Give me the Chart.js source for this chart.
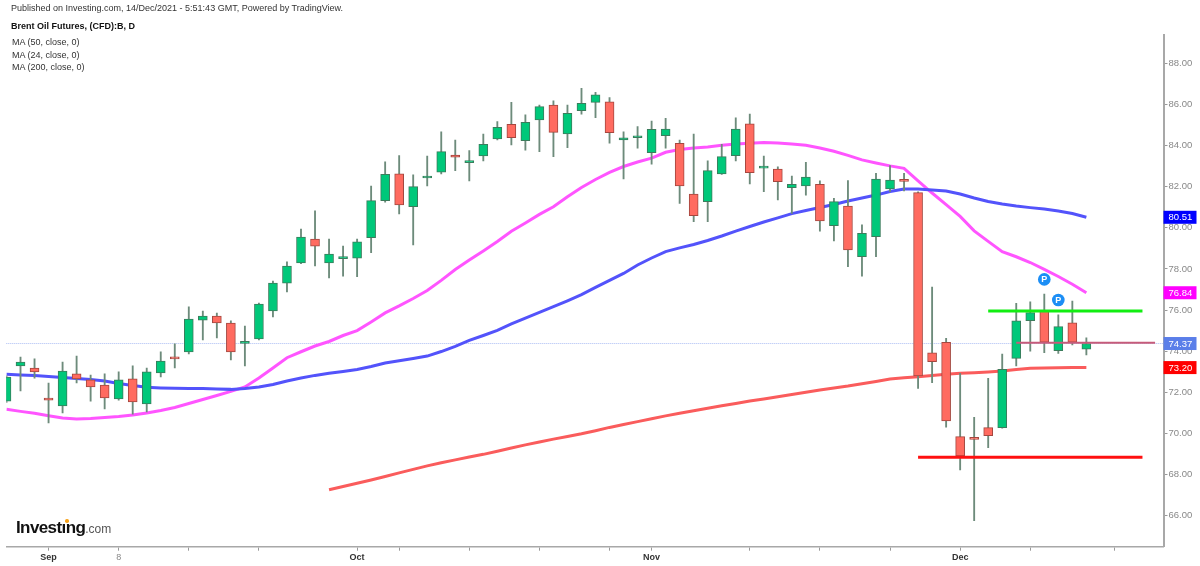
<!DOCTYPE html>
<html>
<head>
<meta charset="utf-8">
<title>Brent Oil Futures, (CFD):B, D</title>
<script src="https://cdn.jsdelivr.net/npm/chart.js@4.4.0/dist/chart.umd.min.js"></script>
<style>
  html, body { margin: 0; padding: 0; background: #fff; }
  #wrap { position: relative; width: 1200px; height: 566px; overflow: hidden; font-family: "Liberation Sans", Arial, sans-serif; }
  #chart { position: absolute; left: 0; top: 0; }
  .txt { position: absolute; left: 11px; white-space: nowrap; color: #333; font-size: 9px; line-height: 9px; }
  .bold { font-weight: bold; color: #111; }
  #logo { position: absolute; left: 16px; top: 518.6px; white-space: nowrap; line-height: 17px; }
  #logo .main { font-size: 17px; font-weight: bold; letter-spacing: -0.6px; color: #111; }
  #logo .dom { font-size: 12px; color: #555; }
  #dot { position: absolute; left: 65px; top: 519px; width: 3.6px; height: 3.6px; border-radius: 50%; background: #f7a21b; }
</style>
</head>
<body>
<div id="wrap">
  <canvas id="chart" width="1200" height="566"></canvas>
  <div class="txt" style="top:3.5px">Published on Investing.com, 14/Dec/2021 - 5:51:43 GMT, Powered by TradingView.</div>
  <div class="txt bold" style="top:21.5px">Brent Oil Futures, (CFD):B, D</div>
  <div class="txt" style="top:38px;left:12px">MA (50, close, 0)</div>
  <div class="txt" style="top:50.5px;left:12px">MA (24, close, 0)</div>
  <div class="txt" style="top:63px;left:12px">MA (200, close, 0)</div>
  <div id="logo"><span class="main">Investıng</span><span class="dom">.com</span></div>
  <div id="dot"></div>
</div>
<script>
// Harian 27 Aug - 14 Dec 2021
const opens = [71.57, 73.28, 73.18, 71.72, 71.33, 72.89, 72.60, 72.35, 71.67, 72.65,
  71.43, 72.94, 73.67, 73.96, 75.51, 75.71, 75.37, 74.38, 74.59, 75.95,
  77.31, 78.29, 79.45, 78.29, 78.50, 78.52, 79.52, 81.32, 82.62, 81.03,
  82.42, 82.70, 83.54, 83.17, 83.49, 84.32, 85.03, 84.24, 85.24, 85.97,
  84.56, 85.69, 86.10, 86.13, 84.27, 84.38, 83.65, 84.48, 84.11, 81.64,
  81.27, 82.62, 83.51, 85.05, 82.90, 82.86, 81.95, 82.03, 82.11, 80.10,
  81.06, 78.59, 79.57, 81.89, 82.30, 81.71, 73.92, 74.43, 69.84, 69.75,
  70.28, 70.28, 73.65, 75.48, 75.97, 74.02, 75.38, 74.10];
const highs = [72.80, 73.71, 73.62, 72.45, 73.47, 73.76, 72.84, 72.89, 72.99, 73.28,
  73.18, 73.96, 74.35, 76.15, 75.95, 75.85, 75.47, 75.22, 76.34, 77.41,
  78.34, 79.94, 80.82, 79.45, 79.11, 79.45, 82.03, 83.21, 83.51, 82.57,
  83.49, 84.67, 84.27, 83.75, 84.56, 85.16, 86.10, 85.49, 85.97, 86.18,
  85.97, 86.78, 86.59, 86.33, 84.67, 84.92, 85.19, 85.32, 84.27, 84.56,
  83.25, 84.06, 85.35, 85.53, 83.49, 82.97, 82.52, 83.18, 82.28, 81.43,
  82.29, 80.14, 82.65, 83.02, 82.65, 81.75, 77.11, 74.62, 72.92, 70.78,
  72.68, 73.86, 76.33, 76.40, 76.77, 75.76, 76.44, 74.65];
const lows = [71.50, 72.06, 72.69, 70.51, 70.99, 72.45, 71.57, 71.19, 71.62, 70.94,
  71.04, 72.74, 73.18, 73.86, 74.54, 74.64, 73.57, 73.28, 74.54, 75.66,
  76.88, 78.25, 78.14, 77.56, 77.65, 77.62, 78.79, 81.24, 80.67, 79.16,
  82.03, 82.62, 82.78, 82.28, 83.25, 84.27, 84.03, 83.78, 83.70, 83.46,
  83.89, 85.52, 85.35, 84.11, 82.37, 83.87, 83.09, 83.87, 81.19, 80.30,
  80.30, 82.60, 83.25, 82.13, 81.75, 81.35, 80.70, 81.59, 79.84, 79.36,
  78.11, 77.65, 78.59, 81.75, 81.79, 72.19, 72.46, 70.30, 68.22, 65.75,
  69.30, 70.25, 73.28, 74.00, 73.92, 73.89, 74.30, 73.81];
const closes = [72.74, 73.47, 72.99, 71.62, 73.03, 72.65, 72.26, 71.72, 72.60, 71.53,
  72.99, 73.52, 73.62, 75.56, 75.71, 75.37, 73.96, 74.42, 76.29, 77.31,
  78.14, 79.55, 79.11, 78.72, 78.55, 79.32, 81.32, 82.60, 81.11, 82.00,
  82.46, 83.70, 83.43, 83.25, 84.06, 84.89, 84.38, 85.13, 85.89, 84.64,
  85.57, 86.05, 86.46, 84.62, 84.38, 84.42, 84.79, 84.80, 82.03, 80.59,
  82.78, 83.46, 84.80, 82.68, 82.94, 82.24, 82.11, 82.46, 80.33, 81.27,
  78.92, 79.73, 82.37, 82.32, 82.26, 72.79, 73.49, 70.60, 68.90, 69.71,
  69.89, 73.12, 75.47, 75.87, 74.43, 75.19, 74.43, 74.37];

// Garis MA (bukan dihitung)
const ma50 = [72.87, 72.84, 72.81, 72.77, 72.72, 72.67, 72.62, 72.55, 72.43, 72.33,
  72.24, 72.21, 72.19, 72.18, 72.18, 72.16, 72.14, 72.18, 72.26, 72.38,
  72.55, 72.69, 72.82, 72.92, 73.01, 73.11, 73.25, 73.42, 73.53, 73.64,
  73.76, 73.98, 74.23, 74.52, 74.76, 75.01, 75.32, 75.61, 75.88, 76.16,
  76.45, 76.75, 77.10, 77.44, 77.78, 78.19, 78.53, 78.84, 79.02, 79.19,
  79.38, 79.60, 79.84, 80.06, 80.28, 80.48, 80.69, 80.84, 80.99, 81.13,
  81.30, 81.45, 81.59, 81.76, 81.89, 81.89, 81.84, 81.79, 81.64, 81.45,
  81.28, 81.16, 81.06, 80.98, 80.91, 80.82, 80.69, 80.51];
const ma24 = [71.17, 71.07, 70.98, 70.86, 70.75, 70.70, 70.72, 70.77, 70.82, 70.89,
  70.99, 71.11, 71.26, 71.45, 71.65, 71.84, 72.04, 72.26, 72.69, 73.18,
  73.68, 73.97, 74.25, 74.47, 74.76, 75.00, 75.42, 75.86, 76.20, 76.56,
  76.95, 77.44, 77.97, 78.43, 78.87, 79.33, 79.83, 80.23, 80.65, 81.02,
  81.51, 81.96, 82.35, 82.69, 82.98, 83.20, 83.39, 83.67, 83.81, 83.88,
  83.93, 84.01, 84.07, 84.11, 84.15, 84.12, 84.07, 84.01, 83.88, 83.72,
  83.52, 83.30, 83.15, 83.01, 82.89, 82.28, 81.69, 81.13, 80.55, 79.85,
  79.34, 78.84, 78.59, 78.31, 77.98, 77.63, 77.25, 76.84];
const ma200 = [null, null, null, null, null, null, null, null, null, null,
  null, null, null, null, null, null, null, null, null, null,
  null, null, null, 67.26, 67.42, 67.57, 67.73, 67.90, 68.08, 68.25,
  68.42, 68.57, 68.71, 68.85, 68.98, 69.13, 69.29, 69.44, 69.58, 69.72,
  69.85, 69.98, 70.13, 70.29, 70.43, 70.57, 70.71, 70.85, 70.98, 71.10,
  71.22, 71.34, 71.45, 71.57, 71.67, 71.78, 71.89, 72.00, 72.11, 72.21,
  72.30, 72.41, 72.52, 72.64, 72.70, 72.75, 72.82, 72.87, 72.92, 72.95,
  72.99, 73.03, 73.11, 73.17, 73.18, 73.19, 73.20, 73.20];

// Garis horizontal gambar tangan: [dari bar, sampai bar, harga]
const supportLine = [65, 81, 68.84];
const resistLine = [70, 81, 75.95];
const closeRay = [72, 81.9, 74.41];
// Tanda "P": [bar, harga]
const pivots = [[74, 77.49], [75, 76.49]];

// Label sumbu
const yTicks = [66, 68, 70, 72, 74, 76, 78, 80, 82, 84, 86, 88];
const xTickIdx = [3, 8, 13, 18, 25, 28, 33, 38, 43, 46, 53, 58, 63, 68, 73, 79];
const xTickNames = { 3: "Sep", 8: "8", 25: "Oct", 46: "Nov", 68: "Dec" };
// Label harga terakhir di kanan: MA50, MA24, close, MA200
const lastValues = [80.51, 76.84, 74.37, 73.20];

const FONT = '"Liberation Sans", Arial, sans-serif';
const tagColors = ["#0000ff", "#ff00ff", "#5a7ee9", "#ff0000"];

const idx = opens.map((_, i) => i);
const isUp = idx.map((i) => closes[i] >= opens[i]);

function hLine(def, color, width) {
    return {
        type: "line",
        data: [{ x: def[0], y: def[2] }, { x: def[1], y: def[2] }],
        borderColor: color,
        borderWidth: width,
        pointRadius: 0,
        order: 0,
    };
}

const overlay = {
    id: "overlay",
    beforeDatasetsDraw(chart) {
        // garis harga terakhir (titik-titik)
        const { ctx, chartArea: a, scales } = chart;
        const py = scales.y.getPixelForValue(closes[closes.length - 1]);
        ctx.save();
        ctx.strokeStyle = "#a9bcf3";
        ctx.lineWidth = 1;
        ctx.setLineDash([1, 1]);
        ctx.beginPath();
        ctx.moveTo(a.left, py);
        ctx.lineTo(a.right, py);
        ctx.stroke();
        ctx.restore();
    },
    afterDatasetsDraw(chart) {
        // huruf P di atas lingkaran
        const { ctx } = chart;
        const meta = chart.getDatasetMeta(chart.data.datasets.length - 1);
        ctx.save();
        ctx.fillStyle = "#fff";
        ctx.font = "bold 9px " + FONT;
        ctx.textAlign = "center";
        ctx.textBaseline = "middle";
        meta.data.forEach((pt) => ctx.fillText("P", pt.x, pt.y + 0.5));
        ctx.restore();
    },
    afterDraw(chart) {
        // kotak label harga di sumbu kanan
        const { ctx, chartArea: a, scales } = chart;
        ctx.save();
        ctx.font = "9.5px " + FONT;
        ctx.textBaseline = "middle";
        lastValues.forEach((v, k) => {
            const py = scales.y.getPixelForValue(v);
            ctx.fillStyle = tagColors[k];
            ctx.fillRect(a.right, py - 6.5, 33, 13);
            ctx.fillStyle = "#fff";
            ctx.fillText(v.toFixed(2), a.right + 5, py + 0.5);
        });
        ctx.restore();
    },
};

new Chart(document.getElementById("chart").getContext("2d"), {
    type: "bar",
    data: {
        datasets: [
            {
                type: "line",
                label: "MA (50, close, 0)",
                data: ma50.map((v, i) => ({ x: i, y: v })),
                borderColor: "#5353fb",
                borderWidth: 3,
                pointRadius: 0,
                order: 10,
            },
            {
                type: "line",
                label: "MA (24, close, 0)",
                data: ma24.map((v, i) => ({ x: i, y: v })),
                borderColor: "#ff55ff",
                borderWidth: 3,
                pointRadius: 0,
                order: 10,
            },
            {
                type: "line",
                label: "MA (200, close, 0)",
                data: ma200.map((v, i) => ({ x: i, y: v })),
                borderColor: "#fa5c5c",
                borderWidth: 3,
                pointRadius: 0,
                order: 10,
            },
            {
                label: "wick",
                data: idx.map((i) => ({ x: i, y: [lows[i], highs[i]] })),
                backgroundColor: "#6d8b7b",
                barThickness: 1.2,
                grouped: false,
                order: 3,
            },
            {
                label: "body",
                data: idx.map((i) => ({ x: i, y: [opens[i], closes[i]] })),
                backgroundColor: isUp.map((u) => (u ? "#00c87a" : "#ff6b60")),
                borderColor: isUp.map((u) => (u ? "#3b7c5c" : "#a4473f")),
                borderWidth: 1,
                borderSkipped: false,
                barThickness: 9,
                minBarLength: 2,
                grouped: false,
                order: 2,
            },
            hLine(closeRay, "#c65b7a", 2),
            hLine(resistLine, "#12ee12", 3),
            hLine(supportLine, "#ff1010", 3),
            {
                type: "scatter",
                label: "P",
                data: pivots.map((p) => ({ x: p[0], y: p[1] })),
                backgroundColor: "#1c8ef5",
                borderWidth: 0,
                pointRadius: 6.3,
                order: 0,
            },
        ],
    },
    options: {
        responsive: false,
        animation: false,
        events: [],
        layout: { padding: { left: 5, top: 35, right: 0, bottom: 0 } },
        plugins: { legend: { display: false }, tooltip: { enabled: false } },
        scales: {
            x: {
                type: "linear",
                min: -0.013,
                max: 82.5,
                offset: false,
                afterBuildTicks: (s) => {
                    s.ticks = xTickIdx.map((v) => ({ value: v }));
                },
                afterFit: (s) => {
                    s.height = 19.3;
                },
                grid: { drawOnChartArea: false, offset: false, tickLength: 4, color: "#9a9a9a" },
                border: { display: true, color: "#a8a8a8", width: 1.5 },
                ticks: {
                    autoSkip: false,
                    maxRotation: 0,
                    padding: 1,
                    callback: (v) => xTickNames[v] || "",
                    color: (c) => (c.tick && c.tick.value === 8 ? "#888" : "#333"),
                    font: (c) => ({
                        family: FONT,
                        size: 9,
                        weight: c.tick && c.tick.value === 8 ? "normal" : "bold",
                    }),
                },
            },
            y: {
                type: "linear",
                position: "right",
                min: 64.488,
                max: 89.376,
                afterBuildTicks: (s) => {
                    s.ticks = yTicks.map((v) => ({ value: v }));
                },
                afterFit: (s) => {
                    s.width = 36.5;
                },
                grid: { drawOnChartArea: false, tickLength: 4, color: "#9a9a9a" },
                border: { display: true, color: "#a8a8a8", width: 2 },
                ticks: {
                    padding: 1,
                    color: "#888",
                    font: { family: FONT, size: 9.5 },
                    callback: (v) => Number(v).toFixed(2),
                },
            },
        },
    },
    plugins: [overlay],
});
</script>
</body>
</html>
